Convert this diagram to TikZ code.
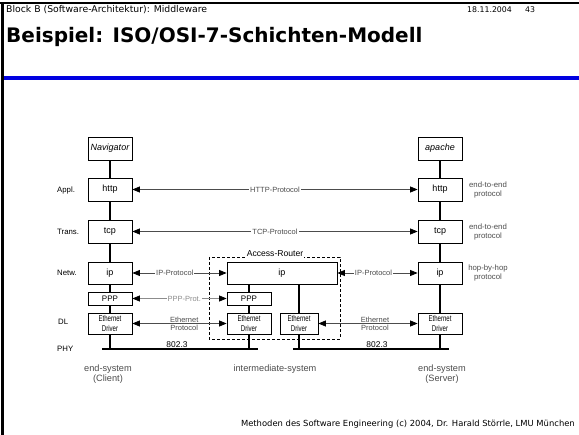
\documentclass[tikz,border=0pt]{standalone}
\usepackage{fontspec}
\setmainfont{DejaVu Sans}
\newfontfamily\diagfont{Liberation Sans}
\newfontfamily\narrowfont[FakeStretch=0.72]{Liberation Sans}
\usetikzlibrary{arrows.meta}
\definecolor{slideblue}{RGB}{0,0,225}
\definecolor{protgray}{gray}{0.3}
\definecolor{softgray}{gray}{0.55}

\begin{document}
\begin{tikzpicture}[x=1pt,y=-1pt,
  layerbox/.style={draw=black, line width=0.8pt, fill=white, inner sep=0pt,
    minimum width=44pt, font=\diagfont\fontsize{9}{10}\selectfont, align=center},
  drvbox/.style={layerbox, minimum height=21pt, font=\narrowfont\fontsize{8.4}{10}\selectfont},
  stackline/.style={line width=2.4pt},
  phyline/.style={line width=1.2pt},
  protarrow/.style={draw=protgray, line width=0.8pt,
    {Triangle[length=7.5pt,width=6pt,color=black]}-{Triangle[length=7.5pt,width=6pt,color=black]}},
  lbl/.style={font=\diagfont\fontsize{7.5}{8}\selectfont, text=protgray, align=center, inner sep=1pt},
  onlbl/.style={lbl, fill=white},
  upper/.style={lbl, anchor=south, inner sep=0.6pt},
  lower/.style={lbl, anchor=north, inner sep=0.6pt, yshift=-0.8pt},
  side/.style={font=\diagfont\fontsize{7.8}{9}\selectfont, text=protgray, align=center, inner sep=0pt},
  sysname/.style={font=\diagfont\fontsize{9.2}{10.5}\selectfont, text=protgray, align=center, inner sep=0pt},
  layername/.style={font=\diagfont\fontsize{7.8}{8.5}\selectfont, anchor=west, inner sep=0pt}
]
\useasboundingbox (0,0) rectangle (579,435);

% slide frame, header and footer
\draw[line width=1.5pt] (0,3) -- (579,3);
\draw[line width=3pt] (2.5,2.3) -- (2.5,435);
\draw[slideblue, line width=4pt] (4,78) -- (579,78);
\node[anchor=west, inner sep=0pt, font=\fontsize{9.3}{10}\selectfont] (hdr) at (6,10) {Block B (Software-Architektur): Middleware};
\node[anchor=west, inner sep=0pt, font=\fontsize{7.8}{9}\selectfont] (date) at (467,10) {18.11.2004};
\node[anchor=west, inner sep=0pt, font=\fontsize{7.8}{9}\selectfont] (page) at (525,10) {43};
\node[anchor=west, inner sep=0pt, font=\bfseries\fontsize{20}{24}\selectfont] (title) at (6,37) {Beispiel: ISO/OSI-7-Schichten-Modell};
\node[anchor=east, inner sep=0pt, font=\fontsize{8.4}{9.5}\selectfont] (footer) at (575,424) {Methoden des Software Engineering (c) 2004, Dr. Harald Störrle, LMU München};

% router boundary
\draw[dashed, line width=0.7pt, dash pattern=on 3pt off 2pt] (209,257) rectangle (340,339);
\node[onlbl, text=black, font=\diagfont\fontsize{8.6}{9}\selectfont] (router) at (275,254) {Access-Router};

% end-system (client)
\node[layerbox, minimum height=23pt] (cnav)  at (110,148.5) {\itshape Navigator};
\node[layerbox, minimum height=23pt] (chttp) at (110,189.5) {http};
\node[layerbox, minimum height=23pt] (ctcp)  at (110,231.5) {tcp};
\node[layerbox, minimum height=22pt] (cip)   at (110,273)   {ip};
\node[layerbox, minimum height=13pt, font=\diagfont\fontsize{8}{9}\selectfont] (cppp)  at (110,298.5) {PPP};
\node[drvbox] (ceth) at (110,323.5) {Ethernet\\Driver};

% intermediate system (router)
\node[layerbox, minimum width=110pt, minimum height=22pt] (rip) at (282,273) {ip};
\node[layerbox, minimum height=13pt, font=\diagfont\fontsize{8}{9}\selectfont] (rppp)  at (249,298.5) {PPP};
\node[drvbox] (reth1) at (249,323.5) {Ethernet\\Driver};
\node[drvbox, minimum width=38pt] (reth2) at (299,323.5) {Ethernet\\Driver};

% end-system (server)
\node[layerbox, minimum height=23pt] (snav)  at (440,148.5) {\itshape apache};
\node[layerbox, minimum height=23pt] (shttp) at (440,189.5) {http};
\node[layerbox, minimum height=23pt] (stcp)  at (440,231.5) {tcp};
\node[layerbox, minimum height=22pt] (sip)   at (440,273)   {ip};
\node[drvbox] (seth) at (440,323.5) {Ethernet\\Driver};

% physical media
\coordinate (phyAa) at (102,349);
\coordinate (phyAb) at (258,349);
\coordinate (phyBa) at (293,349);
\coordinate (phyBb) at (449,349);
\draw[phyline] (phyAa) -- (phyAb);
\draw[phyline] (phyBa) -- (phyBb);
\node[lbl, anchor=south, text=black, font=\diagfont\fontsize{8.4}{9}\selectfont] (medA) at (177,348.5) {802.3};
\node[lbl, anchor=south, text=black, font=\diagfont\fontsize{8.4}{9}\selectfont] (medB) at (377,348.5) {802.3};

% protocol stacks
\draw[stackline] (cnav) -- (chttp);
\draw[stackline] (chttp) -- (ctcp);
\draw[stackline] (ctcp) -- (cip);
\draw[stackline] (cip) -- (cppp);
\draw[stackline] (cppp) -- (ceth);
\draw[stackline] (ceth.south) -- (ceth.south |- phyAa);

\draw[stackline] (snav) -- (shttp);
\draw[stackline] (shttp) -- (stcp);
\draw[stackline] (stcp) -- (sip);
\draw[stackline] (sip) -- (seth);
\draw[stackline] (seth.south) -- (seth.south |- phyBb);

\draw[stackline] (rppp.north |- rip.south) -- (rppp.north);
\draw[stackline] (rppp) -- (reth1);
\draw[stackline] (reth1.south) -- (reth1.south |- phyAb);
\draw[stackline] (reth2.north |- rip.south) -- (reth2.north);
\draw[stackline] (reth2.south) -- (reth2.south |- phyBa);

% peer protocols
\draw[protarrow] (chttp.east) -- node[onlbl] {HTTP-Protocol} (shttp.west);
\draw[protarrow] (ctcp.east) -- node[onlbl] {TCP-Protocol} (stcp.west);
\draw[protarrow] (cip.east) -- node[onlbl, pos=0.45] {IP-Protocol} (rip.west);
\draw[protarrow] (rip.east) -- node[onlbl, pos=0.45] {IP-Protocol} (sip.west);
\draw[protarrow, draw=softgray] (cppp.east) -- node[onlbl, pos=0.55, text=softgray] {PPP-Prot.} (rppp.west);
\draw[protarrow] (ceth.east) -- node[upper, pos=0.55] {Ethernet} node[lower, pos=0.55] {Protocol} (reth1.west);
\draw[protarrow] (reth2.east) -- node[upper, pos=0.57] {Ethernet} node[lower, pos=0.57] {Protocol} (seth.west);

% layer names
\node[layername] (lappl) at (57,190) {Appl.};
\node[layername] (ltrans) at (57,231.5) {Trans.};
\node[layername] (lnetw) at (57,273) {Netw.};
\node[layername] (ldl) at (58,322) {DL};
\node[layername] (lphy) at (57,349) {PHY};

% scope notes
\node[side] (n1) at (488,189.5) {end-to-end\\protocol};
\node[side] (n2) at (488,231.5) {end-to-end\\protocol};
\node[side] (n3) at (488,273) {hop-by-hop\\protocol};

\node[sysname] (sysc) at (108,374) {end-system\\(Client)};
\node[sysname] (sysi) at (275,369) {intermediate-system};
\node[sysname] (syss) at (442,374) {end-system\\(Server)};
\end{tikzpicture}
\end{document}
